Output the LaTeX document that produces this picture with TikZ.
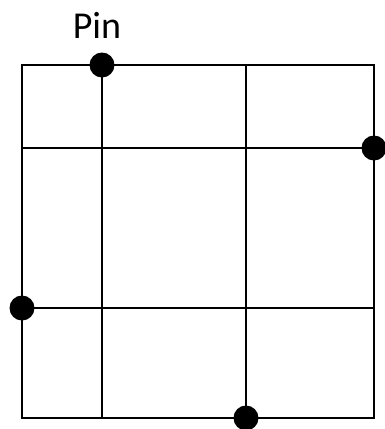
\documentclass[tikz,border=0pt]{standalone}
\usepackage{fontspec}
\setmainfont{Carlito}
\usetikzlibrary{positioning}
\tikzset{
  gridline/.style={line width=2.8pt, draw=black},
  pindot/.style={circle, fill=black, minimum size=25pt, inner sep=0pt},
  pinlabel/.style={font=\fontsize{38}{40}\selectfont, inner sep=2pt}
}
\begin{document}
\begin{tikzpicture}[x=1pt, y=-1pt]
  \useasboundingbox (0,0) rectangle (384,429);
  % Board outline and the 3x3 cells
  \coordinate (nw) at (22,65);
  \coordinate (se) at (374,418);
  \coordinate (vat) at (102,65);
  \coordinate (vab) at (102,418);
  \coordinate (vbt) at (246,65);
  \coordinate (vbb) at (246,418);
  \coordinate (hal) at (22,148);
  \coordinate (har) at (374,148);
  \coordinate (hbl) at (22,308);
  \coordinate (hbr) at (374,308);

  \draw[gridline] (nw) rectangle (se);
  \draw[gridline] (vat) -- (vab);
  \draw[gridline] (vbt) -- (vbb);
  \draw[gridline] (hal) -- (har);
  \draw[gridline] (hbl) -- (hbr);

  % Pins on the border
  \node[pindot] (ptop) at (vat) {};
  \node[pindot] (pright) at (har) {};
  \node[pindot] (pleft) at (hbl) {};
  \node[pindot] (pbottom) at (vbb) {};

  \node[pinlabel, above=12pt of ptop, xshift=-5pt] (pintext) {Pin};
\end{tikzpicture}
\end{document}
